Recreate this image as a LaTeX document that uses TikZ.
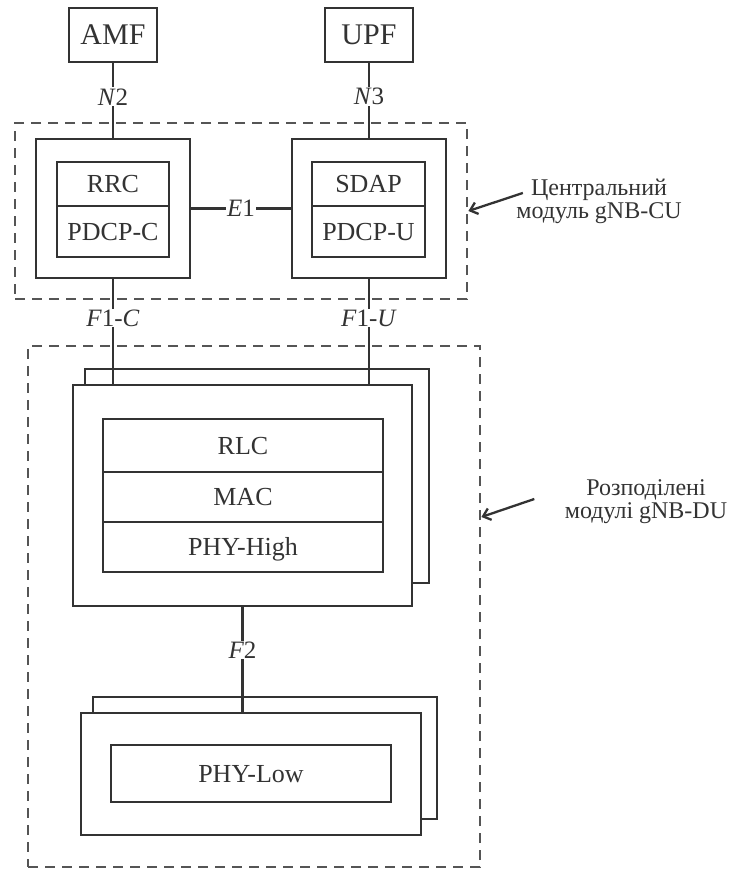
\documentclass[tikz,border=0pt]{standalone}
\usepackage{fontspec}
\setmainfont{Liberation Serif}
\usepackage{xcolor}
\usepackage{tikz}
\usetikzlibrary{arrows.meta,positioning,calc}
\definecolor{ink}{HTML}{333333}
\definecolor{dashink}{HTML}{555555}

\begin{document}
\begin{tikzpicture}[
    x=1pt, y=-1pt,
    netbox/.style={rectangle, draw=ink, text=ink, line width=2.3pt, minimum width=88pt, minimum height=54pt, font=\fontsize{30}{34}\selectfont},
    unitbox/.style={rectangle, draw=ink, fill=white, line width=2.3pt},
    layer/.style={rectangle, draw=ink, text=ink, line width=2.3pt, inner sep=0pt, outer sep=0pt, text height=18pt, text depth=1pt, font=\fontsize{26}{30}\selectfont},
    frame/.style={rectangle, draw=dashink, line width=2.8pt, dash pattern=on 10pt off 7pt},
    iface/.style={fill=white, text=ink, inner sep=1pt, font=\fontsize{25}{30}\selectfont},
    link/.style={draw=ink, line width=2.3pt},
    note/.style={align=center, text=ink, font=\fontsize{24}{23}\selectfont},
    arrow/.style={-{Straight Barb[length=7pt, width=12pt]}, line width=2.3pt, draw=ink}
]
    \useasboundingbox (0,0) rectangle (738,870);

    % core network
    \node [netbox] (amf) at (113,35) {AMF};
    \node [netbox] (upf) at (369,35) {UPF};

    % central unit
    \node [frame, minimum width=452pt, minimum height=176pt] (cu) at (241,211) {};
    \node [unitbox, minimum width=154pt, minimum height=139pt] (cuc) at (113,208.5) {};
    \node [layer, minimum width=112pt, minimum height=44pt] (rrc) at (113,184) {RRC};
    \node [layer, minimum width=112pt, minimum height=51pt, below=0pt of rrc] (pdcpc) {PDCP-C};
    \node [unitbox, minimum width=154pt, minimum height=139pt] (cuu) at (369,208.5) {};
    \node [layer, minimum width=113pt, minimum height=44pt] (sdap) at (368.5,184) {SDAP};
    \node [layer, minimum width=113pt, minimum height=51pt, below=0pt of sdap] (pdcpu) {PDCP-U};

    % distributed units
    \node [frame, minimum width=452pt, minimum height=521pt] (du) at (254,606.5) {};
    \node [unitbox, minimum width=344pt, minimum height=214pt] (duback) at (257,476) {};
    \node [unitbox, minimum width=339pt, minimum height=221pt] (du1) at (242.5,495.5) {};
    \node [layer, minimum width=280pt, minimum height=53pt] (rlc) at (243,445.5) {RLC};
    \node [layer, minimum width=280pt, minimum height=50pt, below=0pt of rlc] (mac) {MAC};
    \node [layer, minimum width=280pt, minimum height=50pt, below=0pt of mac] (phyhigh) {PHY-High};

    \node [unitbox, minimum width=344pt, minimum height=122pt] (ruback) at (265,758) {};
    \node [unitbox, minimum width=340pt, minimum height=122pt] (ru1) at (251,774) {};
    \node [layer, minimum width=280pt, minimum height=57pt] (phylow) at (251,773.5) {PHY-Low};

    % interfaces
    \draw [link] (amf.south) -- node [iface, pos=0.45] {\textit{N}2} (amf.south |- cuc.north);
    \draw [link] (upf.south) -- node [iface, pos=0.45] {\textit{N}3} (upf.south |- cuu.north);
    \draw [link] (cuc) -- node [iface] {\textit{E}1} (cuu);
    \draw [link] (cuc.south) -- node [iface, pos=0.37] {\textit{F}1-\textit{C}} (cuc.south |- du1.north);
    \draw [link] (cuu.south) -- node [iface, pos=0.37] {\textit{F}1-\textit{U}} (cuu.south |- du1.north);
    \draw [link] (du1.south) -- node [iface, pos=0.41] {\textit{F}2} (du1.south |- ru1.north);

    % notes
    \node [note] (cutext) at (599,201) {Центральний\\модуль gNB-CU};
    \node [note] (dutext) at (646,502) {Розподілені\\модулі gNB-DU};
    \draw [arrow] ($(cutext.west)+(10,-8)$) -- (cu.east);
    \draw [arrow] ($(dutext.west)+(-27,-3)$) -- ($(du.east)+(0,-89.5)$);
\end{tikzpicture}
\end{document}
